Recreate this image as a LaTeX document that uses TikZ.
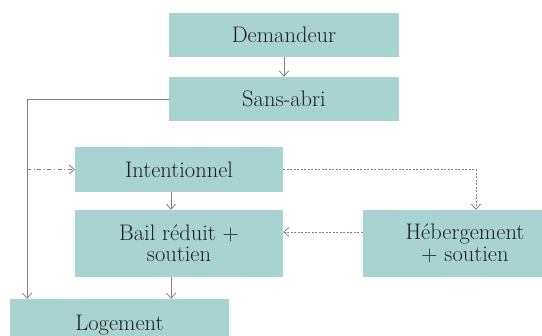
\documentclass[tikz,border=0pt]{standalone}
\usetikzlibrary{arrows.meta}
\definecolor{boxfill}{HTML}{A7D3D0}
\definecolor{linegray}{HTML}{808080}
\definecolor{txt}{HTML}{222222}
\begin{document}
\begin{tikzpicture}[x=1pt,y=-1pt,
  box/.style={rectangle,fill=boxfill,inner sep=0pt,text=txt,align=center,
    font=\fontsize{22.5}{21.5}\selectfont},
  arr/.style={draw=linegray,line width=0.8pt,-{Straight Barb[length=5pt,width=9pt]}},
  plain/.style={draw=linegray,line width=0.8pt},
  dots/.style={dash pattern=on 2pt off 1.5pt},
  dashdot/.style={dash pattern=on 4pt off 2.5pt on 1.2pt off 2.5pt}]
\useasboundingbox (0,0) rectangle (542,336);
\node[box,minimum width=230pt,minimum height=44pt] (dem) at (284,35) {Demandeur};
\node[box,minimum width=230pt,minimum height=44pt] (sa) at (284,99) {Sans-abri};
\node[box,minimum width=208pt,minimum height=45pt] (int) at (179,169.5) {Intentionnel};
\node[box,minimum width=208pt,minimum height=67pt] (bail) at (179,243.5) {Bail réduit +\\soutien};
\node[box,minimum width=204pt,minimum height=67pt] (heb) at (465,243.5) {Hébergement\\+ soutien};
\node[box,minimum width=219pt,minimum height=52pt] (log) at (119.5,325) {Logement};
\coordinate (xl) at (27,0);
\coordinate (xm) at (171,0);
\coordinate (xr) at (476,0);
\coordinate (yh) at (0,232);
\coordinate (dd) at (27,169.5);
\draw[arr] (dem) -- (sa);
\draw[arr] (sa.west) -| (log.north -| xl);
\draw[arr,dashdot] (dd) -- (int.west);
\draw[arr] (int.south -| xm) -- (bail.north -| xm);
\draw[arr,dots] (int.east) -| (heb.north -| xr);
\draw[arr,dots] (heb.west |- yh) -- (bail.east |- yh);
\draw[arr] (bail.south -| xm) -- (log.north -| xm);
\end{tikzpicture}
\end{document}
